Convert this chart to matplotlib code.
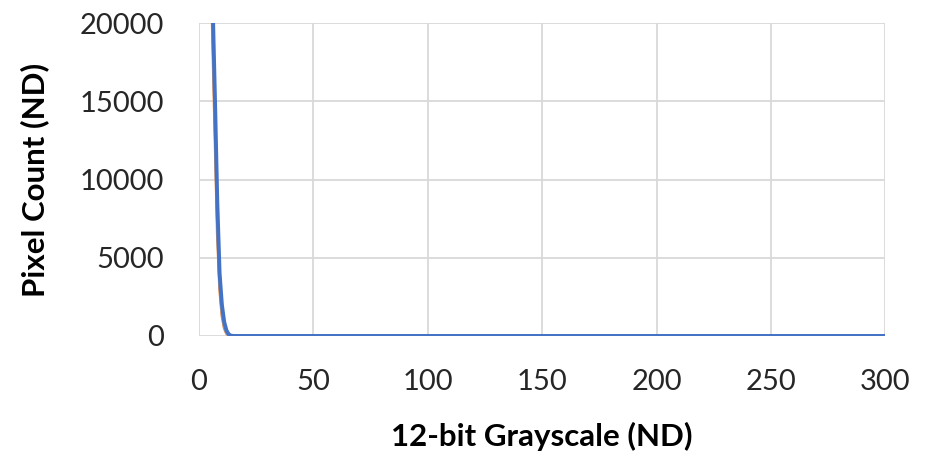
import matplotlib.pyplot as plt

# Histogram of a dark frame: counts per 12-bit grayscale level
grayscale = [0, 1, 2, 3, 4, 5, 6, 7, 8, 9, 10, 11, 12, 13, 14, 15, 300]
counts_orange = [90000, 80000, 60000, 45000, 32000, 25000, 18500, 12500, 6500, 3000, 1300, 500, 150, 30, 0, 0, 0]
counts_gray = [90000, 80000, 60000, 45000, 33000, 26000, 19500, 13500, 7300, 3400, 1500, 600, 200, 50, 5, 0, 0]
counts_blue = [90000, 80000, 62000, 48000, 36000, 29000, 21000, 15000, 8500, 4000, 2000, 900, 350, 100, 20, 0, 0]

plt.rcParams['font.family'] = ['Lato', 'DejaVu Sans']

fig = plt.figure(figsize=(9.3, 4.54), dpi=100)
ax = fig.add_axes([0.214, 0.26, 0.738, 0.689])

ax.plot(grayscale, counts_orange, color='#ED7D31', linewidth=2.0, zorder=3)
ax.plot(grayscale, counts_gray, color='#A5A5A5', linewidth=2.0, zorder=3)
ax.plot(grayscale, counts_blue, color='#4472C4', linewidth=2.8, zorder=4)

ax.set_xlim(0, 300)
ax.set_ylim(0, 20000)
ax.set_xticks(range(0, 301, 50))
ax.set_yticks(range(0, 20001, 5000))

ax.grid(True, color='#d9d9d9', linewidth=1.3)
ax.set_axisbelow(True)
for s in ax.spines.values():
    s.set_visible(False)
ax.tick_params(length=0, labelsize=21, colors='#262626')
ax.tick_params(axis='y', pad=25)
ax.tick_params(axis='x', pad=24)

ax.set_xlabel('12-bit Grayscale (ND)', fontsize=22.5, fontweight='bold', labelpad=19)
ax.set_ylabel('Pixel Count (ND)', fontsize=22.5, fontweight='bold', labelpad=22)

fig.savefig('out.png', dpi=100)
